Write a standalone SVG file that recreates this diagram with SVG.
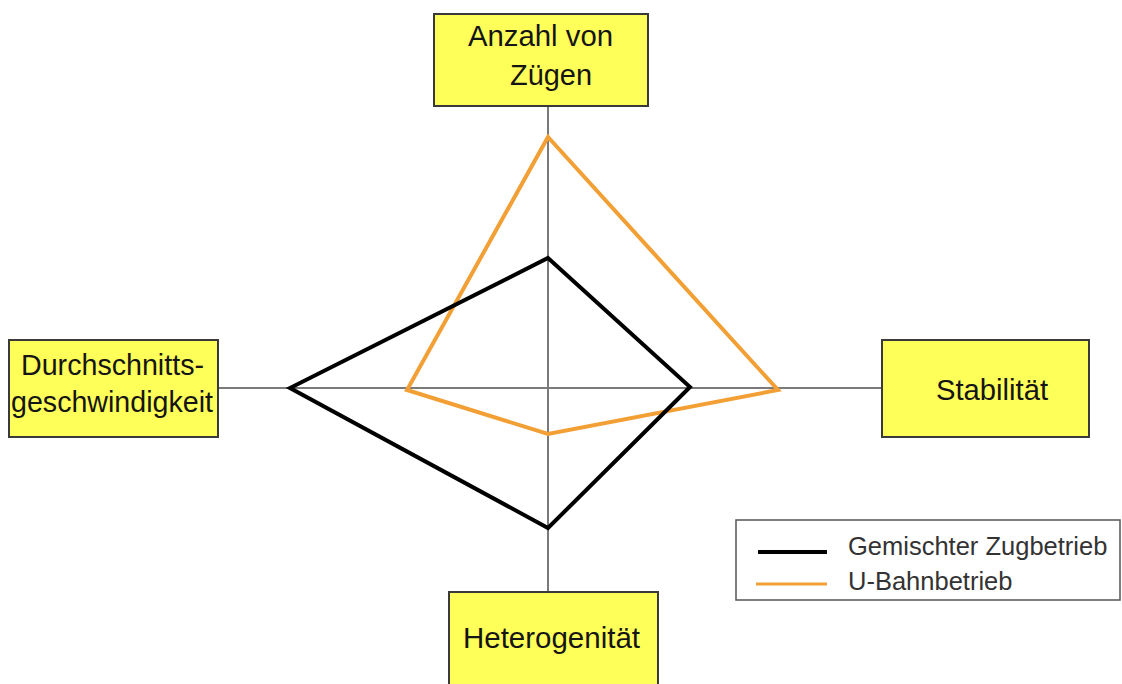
<svg xmlns="http://www.w3.org/2000/svg" width="1122" height="684" viewBox="0 0 1122 684">
<style>
.box{fill:#ffff5a;stroke:#3a3a3a;stroke-width:2}
.lbl{font-family:"Liberation Sans",Arial,sans-serif;font-size:29px;fill:#151515}
.leg{font-family:"Liberation Sans",Arial,sans-serif;font-size:25.5px;fill:#333}
.axis{stroke:#7a7a7a;stroke-width:2;fill:none}
</style>
<rect width="1122" height="684" fill="#fff"/>
<g id="connectors">
<line class="axis" x1="548" y1="106" x2="548" y2="592"/>
<line class="axis" x1="218" y1="388" x2="882" y2="388"/>
</g>
<g id="series-orange">
<polygon points="548,137 778,390 548,434 407,390" fill="none" stroke="#f2a035" stroke-width="4"/>
</g>
<g id="series-black">
<polygon points="548,258 690,387 548,528 290,388" fill="none" stroke="#000" stroke-width="4"/>
</g>
<g id="node-top">
<rect class="box" x="434" y="14" width="214" height="92"/>
<text class="lbl" x="468" y="46" textLength="145" lengthAdjust="spacingAndGlyphs">Anzahl von</text>
<text class="lbl" x="510" y="85" textLength="82" lengthAdjust="spacingAndGlyphs">Zügen</text>
</g>
<g id="node-left">
<rect class="box" x="9" y="340" width="209" height="97"/>
<text class="lbl" x="21" y="375" textLength="183" lengthAdjust="spacingAndGlyphs">Durchschnitts-</text>
<text class="lbl" x="11" y="412" textLength="202" lengthAdjust="spacingAndGlyphs">geschwindigkeit</text>
</g>
<g id="node-right">
<rect class="box" x="882" y="340" width="207" height="97"/>
<text class="lbl" x="936" y="400" textLength="112" lengthAdjust="spacingAndGlyphs">Stabilität</text>
</g>
<g id="node-bottom">
<rect class="box" x="449" y="592" width="209" height="100"/>
<text class="lbl" x="463" y="648" textLength="177" lengthAdjust="spacingAndGlyphs">Heterogenität</text>
</g>
<g id="legend">
<rect x="736" y="520" width="384" height="80" fill="#fff" stroke="#555" stroke-width="1.5"/>
<line x1="758" y1="552" x2="827" y2="552" stroke="#000" stroke-width="4"/>
<line x1="756" y1="584" x2="827" y2="584" stroke="#f2a035" stroke-width="3"/>
<text class="leg" x="848" y="555">Gemischter Zugbetrieb</text>
<text class="leg" x="848" y="590">U-Bahnbetrieb</text>
</g>
</svg>
